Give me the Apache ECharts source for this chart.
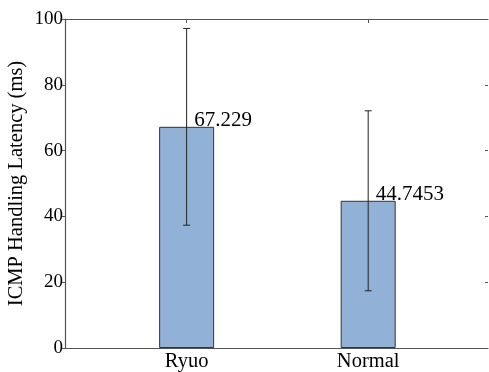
<!DOCTYPE html>
<html>
<head>
<meta charset="utf-8">
<script src="https://cdn.jsdelivr.net/npm/echarts@6/dist/echarts.min.js"></script>
<style>
  html, body { margin: 0; padding: 0; background: #fff; }
  #chart { width: 489px; height: 372px; }
</style>
</head>
<body>
<div id="chart"></div>
<script>
// Mean ICMP handling latency per configuration, with one standard deviation
const categories = ['Ryuo', 'Normal'];
const meanLatency = [67.229, 44.7453];
const stdDev = [29.9, 27.35];
const yTicks = [0, 20, 40, 60, 80, 100];

const FONT = '"Liberation Serif", "DejaVu Serif", serif';
const positions = categories.map((_, i) => i);

const barData = positions.map((x, i) => [x, meanLatency[i]]);
const errData = positions.map((x, i) => [x, meanLatency[i] - stdDev[i], meanLatency[i] + stdDev[i]]);

const chart = echarts.init(document.getElementById('chart'), null, { renderer: 'canvas' });

const frameLine = { show: true, onZero: false, lineStyle: { color: '#555', width: 1.2 } };
const tickStyle = { color: '#555', width: 1 };

chart.setOption({
  animation: false,
  backgroundColor: '#fff',
  grid: { left: 65, right: 1, top: 19, bottom: 24, containLabel: false, outerBoundsMode: 'none' },
  xAxis: [
    {
      type: 'value', position: 'bottom', min: -0.67, max: 1.66,
      axisLine: frameLine,
      splitLine: { show: false },
      axisTick: { show: true, inside: true, length: 4, customValues: positions, lineStyle: tickStyle },
      axisLabel: {
        show: true, customValues: positions, margin: 3,
        formatter: v => categories[Math.round(v)] || '',
        fontFamily: FONT, fontSize: 20.5, color: '#000'
      }
    },
    {
      type: 'value', position: 'top', min: -0.67, max: 1.66,
      axisLine: frameLine,
      splitLine: { show: false },
      axisTick: { show: true, inside: true, length: 4, customValues: positions, lineStyle: tickStyle },
      axisLabel: { show: false }
    }
  ],
  yAxis: [
    {
      type: 'value', position: 'left', min: 0, max: 100, interval: 20,
      name: 'ICMP Handling Latency (ms)', nameLocation: 'middle', nameGap: 38,
      nameMoveOverlap: false,
      nameTextStyle: { fontFamily: FONT, fontSize: 20.5, color: '#000' },
      axisLine: frameLine,
      splitLine: { show: false },
      axisTick: { show: true, inside: false, length: 4, lineStyle: tickStyle },
      axisLabel: {
        fontFamily: FONT, fontSize: 19, color: '#000', margin: 2,
        customValues: yTicks
      }
    },
    {
      type: 'value', position: 'right', min: 0, max: 100, interval: 20,
      axisLine: { show: false, onZero: false },
      splitLine: { show: false },
      axisTick: { show: true, inside: true, length: 3, lineStyle: tickStyle },
      axisLabel: { show: false }
    }
  ],
  series: [
    {
      type: 'bar',
      data: barData,
      barWidth: 55,
      itemStyle: { color: '#92b1d7', borderColor: '#333', borderWidth: 1 },
      label: {
        show: true,
        position: [35, 4],
        align: 'left',
        verticalAlign: 'bottom',
        formatter: p => String(p.value[1]),
        fontFamily: FONT, fontSize: 21, color: '#000'
      },
      z: 2
    },
    {
      type: 'custom',
      data: errData,
      z: 3,
      renderItem: (params, api) => {
        const x = api.value(0);
        const lo = api.coord([x, api.value(1)]);
        const hi = api.coord([x, api.value(2)]);
        const cap = 3.5;
        const style = { stroke: '#222', lineWidth: 1 };
        return {
          type: 'group',
          children: [
            { type: 'line', shape: { x1: lo[0], y1: lo[1], x2: hi[0], y2: hi[1] }, style },
            { type: 'line', shape: { x1: hi[0] - cap, y1: hi[1], x2: hi[0] + cap, y2: hi[1] }, style },
            { type: 'line', shape: { x1: lo[0] - cap, y1: lo[1], x2: lo[0] + cap, y2: lo[1] }, style }
          ]
        };
      }
    }
  ]
});
</script>
</body>
</html>
